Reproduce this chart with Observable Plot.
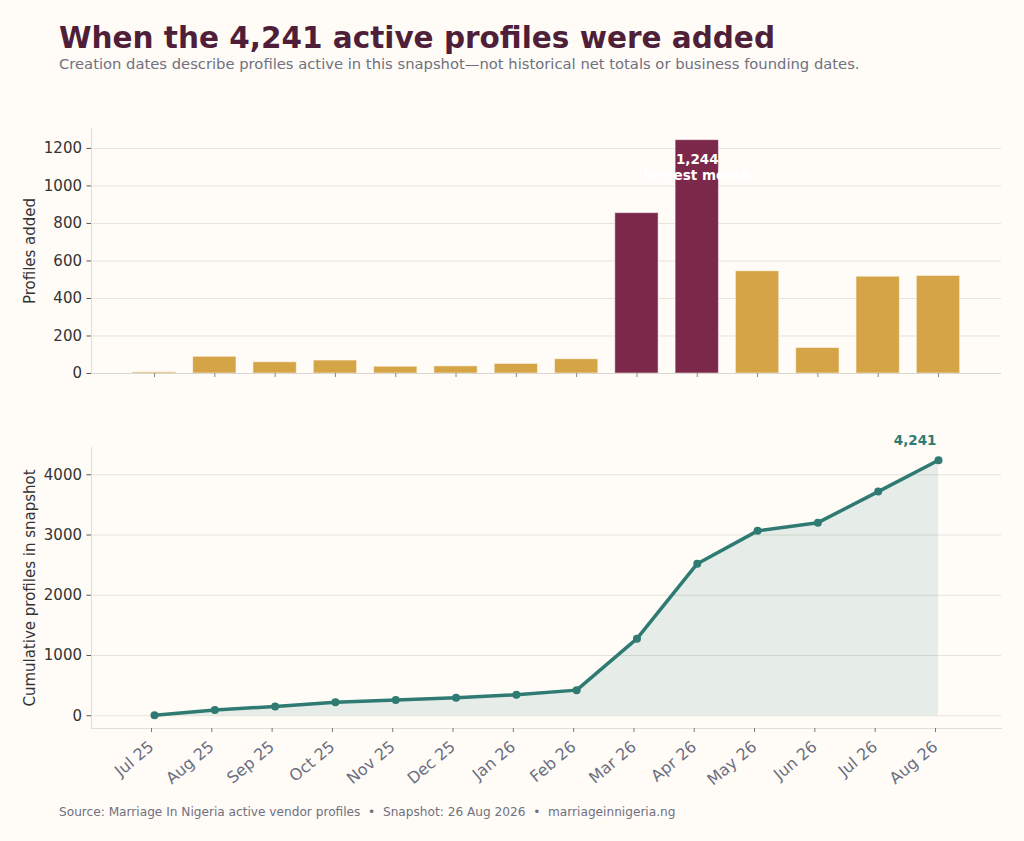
<!DOCTYPE html>
<html>
<head>
<meta charset="utf-8">
<script src="https://cdn.jsdelivr.net/npm/d3@7"></script>
<script src="https://cdn.jsdelivr.net/npm/@observablehq/plot@0.6"></script>
<style>
  html, body { margin: 0; padding: 0; background: #fffcf7; }
  body { width: 1024px; height: 841px; position: relative; overflow: hidden; font-family: "DejaVu Sans", sans-serif; }
  .title { position: absolute; left: 59px; top: 24px; font-size: 29.5px; line-height: 1; font-weight: bold; color: #4f1f39; white-space: nowrap; }
  .subtitle { position: absolute; left: 59px; top: 57px; font-size: 14.75px; line-height: 1; color: #707080; white-space: nowrap; }
  .footer { position: absolute; left: 59px; top: 806px; font-size: 12.15px; line-height: 1; color: #707080; white-space: nowrap; }
  #top { position: absolute; left: 0; top: 110px; }
  #bottom { position: absolute; left: 0; top: 420px; }
</style>
</head>
<body>
<div class="title">When the 4,241 active profiles were added</div>
<div class="subtitle">Creation dates describe profiles active in this snapshot—not historical net totals or business founding dates.</div>
<div id="top"></div>
<div id="bottom"></div>
<div class="footer">Source: Marriage In Nigeria active vendor profiles&nbsp; •&nbsp; Snapshot: 26 Aug 2026&nbsp; •&nbsp; marriageinnigeria.ng</div>
<script>
// ---- data ----
const months = ["Jul 25","Aug 25","Sep 25","Oct 25","Nov 25","Dec 25","Jan 26","Feb 26","Mar 26","Apr 26","May 26","Jun 26","Jul 26","Aug 26"];
const added = [6, 89, 60, 69, 36, 38, 51, 76, 855, 1244, 545, 136, 516, 520];
const cumulative = [6, 95, 155, 224, 260, 298, 349, 425, 1280, 2524, 3069, 3205, 3721, 4241];
const highlightMonths = ["Mar 26", "Apr 26"];
const topTicks = [0, 200, 400, 600, 800, 1000, 1200];
const bottomTicks = [0, 1000, 2000, 3000, 4000];
const totalLabel = "4,241";
const peakLabel = "1,244\nlargest month";

const gold = "#d4a447", maroon = "#7b284b", teal = "#2f7b74";
const gridColor = "#e6e2db", spineColor = "#e2ded7", tickColor = "#555";

const rows = months.map((m, i) => ({month: m, added: added[i], cum: cumulative[i], hi: highlightMonths.includes(m)}));
const peak = rows.reduce((a, b) => (b.added > a.added ? b : a));
const last = rows[rows.length - 1];

const baseStyle = {background: "transparent", fontFamily: "DejaVu Sans, sans-serif", fontSize: "15px", color: "#333", overflow: "visible"};
const plain = d => String(d);

const topChart = Plot.plot({
  width: 1024, height: 290,
  marginLeft: 91, marginRight: 23, marginTop: 18, marginBottom: 27,
  style: baseStyle,
  x: {domain: months, paddingInner: 0.282, paddingOuter: 0.686, round: false, axis: null},
  y: {domain: [0, d3.max(added) * 1.05], axis: null},
  marks: [
    Plot.gridY(topTicks, {stroke: gridColor, strokeOpacity: 1, strokeWidth: 1}),
    Plot.frame({anchor: "left", stroke: spineColor}),
    Plot.rectY(rows, {x: "month", y: "added", fill: d => d.hi ? maroon : gold, stroke: "#fff", strokeOpacity: 0.5, strokeWidth: 1}),
    Plot.ruleY([0], {stroke: "#dad6cf"}),
    Plot.text([peak], {x: "month", y: "added", text: () => peakLabel, fill: "white", fontWeight: "bold", fontSize: 13.5, lineAnchor: "top", dy: 13, lineHeight: 1.15}),
    Plot.axisX({tickSize: 4, tickFormat: () => "", stroke: "#888", label: null}),
    Plot.axisY(topTicks, {tickSize: 4.5, tickPadding: 5, stroke: tickColor, fontSize: 15, tickFormat: plain, label: "Profiles added", labelAnchor: "center", labelOffset: 67, labelArrow: "none"})
  ]
});
document.getElementById("top").appendChild(topChart);

const bottomChart = Plot.plot({
  width: 1024, height: 370,
  marginLeft: 91, marginRight: 23, marginTop: 27, marginBottom: 62,
  style: baseStyle,
  x: {type: "point", domain: months, padding: 1.045, round: false, axis: null},
  y: {domain: [-0.05 * d3.max(cumulative), d3.max(cumulative) * 1.05], axis: null},
  marks: [
    Plot.gridY(bottomTicks, {stroke: gridColor, strokeOpacity: 1, strokeWidth: 1}),
    Plot.frame({anchor: "left", stroke: spineColor}),
    Plot.frame({anchor: "bottom", stroke: spineColor}),
    Plot.areaY(rows, {x: "month", y: "cum", fill: teal, fillOpacity: 0.12}),
    Plot.lineY(rows, {x: "month", y: "cum", stroke: teal, strokeWidth: 3.5}),
    Plot.dot(rows, {x: "month", y: "cum", r: 4, fill: teal}),
    Plot.text([last], {x: "month", y: "cum", text: () => totalLabel, fill: teal, fontWeight: "bold", fontSize: 13.5, textAnchor: "end", dx: -2, dy: -20}),
    Plot.axisX({tickSize: 4, tickPadding: 12, dx: -3, tickRotate: -40, stroke: "#777", color: "#6c6e80", fontSize: 16, label: null}),
    Plot.axisY(bottomTicks, {tickSize: 4.5, tickPadding: 5, stroke: tickColor, fontSize: 15, tickFormat: plain, label: "Cumulative profiles in snapshot", labelAnchor: "center", labelOffset: 67, labelArrow: "none"})
  ]
});
document.getElementById("bottom").appendChild(bottomChart);
</script>
</body>
</html>
